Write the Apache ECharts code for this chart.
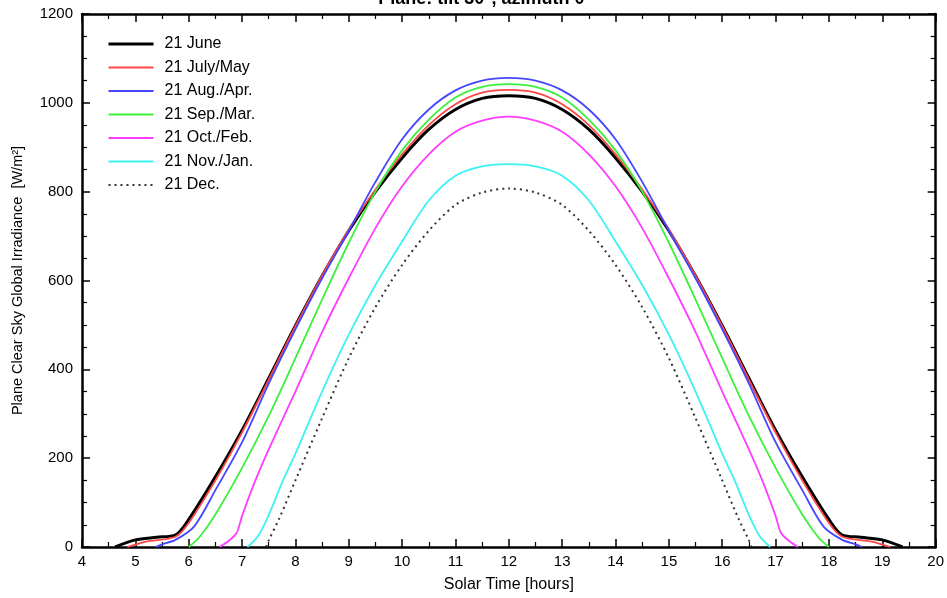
<!DOCTYPE html>
<html>
<head>
<meta charset="utf-8">
<title>Plane Clear Sky Global Irradiance</title>
<script src="https://cdn.jsdelivr.net/npm/echarts@6/dist/echarts.min.js"></script>
<style>
    html, body { margin: 0; padding: 0; background: #fff; }
    #main { width: 947px; height: 598px; }
</style>
</head>
<body>
<div id="main"></div>
<script type="text/javascript">
    // solar time [hours] and irradiance [W/m2]
    var juneHours = [4.62, 5.0, 5.4, 5.75, 6.0, 6.5, 7.0, 7.5, 8.0, 8.5, 9.0, 9.5, 10.0, 10.5, 11.0, 11.5, 12.0,
        12.5, 13.0, 13.5, 14.0, 14.5, 15.0, 15.5, 16.0, 16.5, 17.0, 17.5, 18.0, 18.25, 18.6, 19.0, 19.38];
    var juneVals = [0, 16, 22, 27, 62, 158, 263, 380, 498, 610, 712, 800, 876, 940, 985, 1010, 1016,
        1010, 985, 940, 876, 800, 712, 610, 498, 380, 263, 158, 62, 27, 22, 16, 0];

    var julyHours = [4.85, 5.2, 5.75, 6.0, 6.5, 7.0, 7.5, 8.0, 8.5, 9.0, 9.5, 10.0, 10.5, 11.0, 11.5, 12.0,
        12.5, 13.0, 13.5, 14.0, 14.5, 15.0, 15.5, 16.0, 16.5, 17.0, 17.5, 18.0, 18.25, 18.8, 19.15];
    var julyVals = [0, 12, 23, 54, 150, 258, 377, 497, 611, 715, 805, 884, 950, 997, 1023, 1029,
        1023, 997, 950, 884, 805, 715, 611, 497, 377, 258, 150, 54, 23, 12, 0];

    var augHours = [5.38, 5.5, 5.75, 6.1, 6.5, 7.0, 7.5, 8.0, 8.5, 9.0, 9.5, 10.0, 10.5, 11.0, 11.5, 12.0,
        12.5, 13.0, 13.5, 14.0, 14.5, 15.0, 15.5, 16.0, 16.5, 17.0, 17.5, 17.9, 18.25, 18.5, 18.62];
    var augVals = [0, 6, 16, 46, 128, 236, 368, 490, 605, 712, 822, 918, 985, 1028, 1050, 1056,
        1050, 1028, 985, 918, 822, 712, 605, 490, 368, 236, 128, 46, 16, 6, 0];

    var sepHours = [6.0, 6.2, 6.5, 7.0, 7.5, 8.0, 8.5, 9.0, 9.5, 10.0, 10.5, 11.0, 11.5, 12.0,
        12.5, 13.0, 13.5, 14.0, 14.5, 15.0, 15.5, 16.0, 16.5, 17.0, 17.5, 17.8, 18.0];
    var sepVals = [0, 22, 73, 178, 295, 425, 557, 685, 800, 893, 962, 1012, 1036, 1042,
        1036, 1012, 962, 893, 800, 685, 557, 425, 295, 178, 73, 22, 0];

    var octHours = [6.58, 6.75, 6.9, 7.0, 7.25, 7.5, 8.0, 8.5, 9.0, 9.5, 10.0, 10.5, 11.0, 11.5, 12.0,
        12.5, 13.0, 13.5, 14.0, 14.5, 15.0, 15.5, 16.0, 16.5, 16.75, 17.0, 17.1, 17.25, 17.42];
    var octVals = [0, 14, 32, 70, 150, 220, 350, 484, 605, 718, 812, 884, 935, 960, 969,
        960, 935, 884, 812, 718, 605, 484, 350, 220, 150, 70, 32, 14, 0];

    var novHours = [7.1, 7.3, 7.5, 7.75, 8.0, 8.5, 9.0, 9.5, 10.0, 10.5, 11.0, 11.5, 12.0,
        12.5, 13.0, 13.5, 14.0, 14.5, 15.0, 15.5, 16.0, 16.25, 16.5, 16.7, 16.9];
    var novVals = [0, 25, 72, 145, 210, 350, 478, 590, 688, 780, 836, 857, 862,
        857, 836, 780, 688, 590, 478, 350, 210, 145, 72, 25, 0];

    var decHours = [7.45, 7.5, 7.7, 8.0, 8.5, 9.0, 9.5, 10.0, 10.5, 11.0, 11.5, 12.0,
        12.5, 13.0, 13.5, 14.0, 14.5, 15.0, 15.5, 16.0, 16.3, 16.5, 16.55];
    var decVals = [0, 15, 65, 150, 290, 425, 540, 635, 712, 770, 798, 807,
        798, 770, 712, 635, 540, 425, 290, 150, 65, 15, 0];

    var curveNames = ['21 June', '21 July/May', '21 Aug./Apr.', '21 Sep./Mar.', '21 Oct./Feb.', '21 Nov./Jan.', '21 Dec.'];
    var curveColors = ['#000000', '#ff4646', '#4646ff', '#3cf03c', '#ff3cff', '#3cf2f2', '#333333'];
    var curveWidths = [3, 1.8, 1.8, 1.8, 1.8, 1.8, 2];

    var font = "'Liberation Sans', Arial, sans-serif";

    function pairs(h, v) {
        var out = [];
        for (var i = 0; i < h.length; i++) out.push([h[i], v[i]]);
        return out;
    }

    var curves = [
        pairs(juneHours, juneVals),
        pairs(julyHours, julyVals),
        pairs(augHours, augVals),
        pairs(sepHours, sepVals),
        pairs(octHours, octVals),
        pairs(novHours, novVals),
        pairs(decHours, decVals)
    ];

    var series = curves.map(function (d, i) {
        return {
            name: curveNames[i],
            type: 'line',
            data: d,
            symbol: 'circle',
            showSymbol: false,
            smooth: 0.3,
            z: 2 + i,
            itemStyle: { color: curveColors[i] },
            lineStyle: {
                color: curveColors[i],
                width: curveWidths[i],
                type: i === 6 ? [2, 4] : 'solid'
            }
        };
    });

    var legendData = curveNames.map(function (n, i) {
        return {
            name: n,
            lineStyle: { width: curveWidths[i], color: curveColors[i], type: i === 6 ? [2, 4] : 'solid' }
        };
    });

    var axisLine = { show: true, onZero: false, lineStyle: { color: '#000', width: 2.5 } };
    var tick = { show: true, inside: true, length: 8, lineStyle: { color: '#000', width: 1.5 } };
    var minor = { show: true, length: 5, lineStyle: { color: '#000', width: 1.2 } };

    var myChart = echarts.init(document.getElementById('main'));
    myChart.setOption({
        animation: false,
        backgroundColor: '#fff',
        graphic: [{
            type: 'text',
            x: 485,
            y: -10,
            style: {
                text: 'Plane: tilt 30°, azimuth 0°',
                fill: '#000',
                font: 'bold 18px ' + font,
                textAlign: 'center',
                textVerticalAlign: 'top'
            }
        }],
        grid: { left: 82, right: 11, top: 14, bottom: 51 },
        legend: {
            orient: 'vertical',
            left: 102,
            top: 31,
            itemWidth: 45,
            itemHeight: 14,
            itemGap: 7.5,
            data: legendData,
            itemStyle: { opacity: 0 },
            textStyle: { color: '#000', fontSize: 16, fontFamily: font, lineHeight: 14, padding: [0, 0, 0, 6] }
        },
        xAxis: [{
            type: 'value',
            min: 4,
            max: 20,
            interval: 1,
            position: 'bottom',
            name: 'Solar Time [hours]',
            nameLocation: 'middle',
            nameGap: 30,
            nameTextStyle: { color: '#000', fontSize: 16, fontFamily: font },
            axisLine: axisLine,
            axisTick: tick,
            minorTick: Object.assign({ splitNumber: 2 }, minor),
            splitLine: { show: false },
            axisLabel: { color: '#000', fontSize: 15, fontFamily: font, margin: 7 }
        }, {
            type: 'value',
            min: 4,
            max: 20,
            interval: 1,
            position: 'top',
            axisLine: axisLine,
            axisTick: tick,
            minorTick: Object.assign({ splitNumber: 2 }, minor),
            splitLine: { show: false },
            axisLabel: { show: false }
        }],
        yAxis: [{
            type: 'value',
            min: 0,
            max: 1200,
            interval: 200,
            position: 'left',
            name: 'Plane Clear Sky Global Irradiance  [W/m²]',
            nameLocation: 'middle',
            nameGap: 57,
            nameTextStyle: { color: '#000', fontSize: 14.5, fontFamily: font },
            axisLine: axisLine,
            axisTick: tick,
            minorTick: Object.assign({ splitNumber: 4 }, minor),
            splitLine: { show: false },
            axisLabel: {
                color: '#000', fontSize: 15, fontFamily: font, margin: 9,
                formatter: function (v) { return String(v); }
            }
        }, {
            type: 'value',
            min: 0,
            max: 1200,
            interval: 200,
            position: 'right',
            axisLine: axisLine,
            axisTick: tick,
            minorTick: Object.assign({ splitNumber: 4 }, minor),
            splitLine: { show: false },
            axisLabel: { show: false }
        }],
        series: series
    });
</script>
</body>
</html>
